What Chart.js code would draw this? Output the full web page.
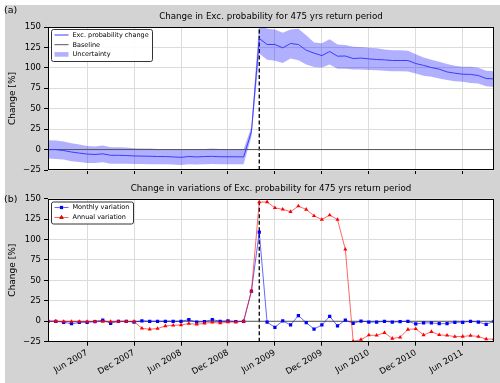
<!DOCTYPE html>
<html>
<head>
<meta charset="utf-8">
<script src="https://cdn.jsdelivr.net/npm/chart.js@4"></script>
<style>
html, body { margin: 0; padding: 0; background: #fff; }
#wrap { position: relative; width: 500px; height: 383px; overflow: hidden; }
canvas { position: absolute; left: 0; }
#ca { top: 0; }
#cb { top: 180px; }
</style>
</head>
<body>
<div id="wrap">
  <canvas id="ca" width="500" height="180"></canvas>
  <canvas id="cb" width="500" height="203"></canvas>
</div>
<script>
// monthly time axis
const months = [
  'Jan 2007','Feb 2007','Mar 2007','Apr 2007','May 2007','Jun 2007','Jul 2007','Aug 2007','Sep 2007','Oct 2007','Nov 2007','Dec 2007',
  'Jan 2008','Feb 2008','Mar 2008','Apr 2008','May 2008','Jun 2008','Jul 2008','Aug 2008','Sep 2008','Oct 2008','Nov 2008','Dec 2008',
  'Jan 2009','Feb 2009','Mar 2009','Apr 2009','May 2009','Jun 2009','Jul 2009','Aug 2009','Sep 2009','Oct 2009','Nov 2009','Dec 2009',
  'Jan 2010','Feb 2010','Mar 2010','Apr 2010','May 2010','Jun 2010','Jul 2010','Aug 2010','Sep 2010','Oct 2010','Nov 2010','Dec 2010',
  'Jan 2011','Feb 2011','Mar 2011','Apr 2011','May 2011','Jun 2011','Jul 2011','Aug 2011','Sep 2011','Oct 2011'
];
const tickLabels = ['Jun 2007','Dec 2007','Jun 2008','Dec 2008','Jun 2009','Dec 2009','Jun 2010','Dec 2010','Jun 2011'];
const eventMonth = 'Apr 2009';
const yTicks = [-25, 0, 25, 50, 75, 100, 125, 150];

// panel (a)
const excChange = [0, 0, -1.2, -3, -4.3, -5.5, -6, -5.2, -7, -7, -7.3, -7.8, -8, -8.2, -8.5, -8.5, -9, -9.5, -8.5, -9, -8.5, -8.3, -8.8, -8.8, -8.8, -9,
  22, 136, 128.6, 128.6, 124.5, 129.8, 128.6, 121.6, 118, 115, 120, 114.3, 114.5, 111.4, 112, 111, 110.2, 109.8, 109, 109, 109, 105.3, 103, 100.4, 98.4, 95, 93.5, 92.2, 92, 90.6, 87, 86.5];
const bandHigh = [11.4, 11, 9.8, 7.8, 6.1, 4.5, 3.7, 4.9, 2.9, 2.9, 2.4, 1.6, 1.2, 1.2, 0.8, 0.8, 0.4, 0, 0.8, 0.4, 0.8, 1.2, 0.8, 0.8, 0.8, 0.4,
  28, 156, 148, 147, 143, 147, 148, 140, 131, 130, 135, 128.6, 128, 125.7, 125.5, 124.5, 124, 122.4, 121.6, 121.6, 120.8, 116.7, 112.7, 110, 107.6, 104.7, 102.7, 101.4, 101.4, 100, 96.5, 96];
const bandLow = [-11, -11.4, -12.2, -14.3, -15.1, -16.3, -16.3, -15.5, -17.2, -17.2, -17.2, -17.6, -17.6, -18, -18, -18, -18.4, -18.8, -18, -18.4, -18, -17.6, -18, -18, -18, -18,
  16, 117.6, 110, 108.6, 106, 111.4, 109.4, 104, 101, 100.3, 104, 99, 99, 98, 98, 97.3, 97, 96.5, 96, 96, 95.5, 93, 90.3, 89, 87, 85, 83.7, 83, 81.6, 80.8, 77.5, 76.7];

// panel (b)
const monthlyVar = [0, 0, -1.2, -3, -1.5, -1.2, -0.5, 1.5, -2.5, 0, 0, -1, 0.5, 0, 0, 0, 0, 0, 2, -1, -0.5, 2, 0, 0.5, -0.5, 0,
  37, 109, -1, -7.4, 0.5, -4.5, 7, -1.7, -9.5, -4.5, 6, -5.7, 1.5, -2.5, 0.3, -1, -1, 0, -1, -0.5, 0, -3.3, -2, -2, -2.9, -2.9, -1.2, -1.2, 0, -1, -3.7, 0];
const annualVar = [0, 0, -0.4, -0.4, -0.4, -0.4, -0.4, -0.4, -0.4, -0.4, -0.4, -0.3, -8.7, -9.7, -8.9, -5.8, -5, -4.5, -2.8, -3.8, -2.5, -1.3, -2.3, -1, -1, 0,
  37, 145.8, 146, 138.8, 137, 134, 141, 136.8, 129, 124.5, 130, 124.5, 88, -24.5, -22.5, -17, -17.3, -14, -21, -19.6, -10, -9.3, -16.8, -12.8, -16.6, -17.3, -18.7, -18.6, -17.5, -18.7, -21.8, -21.8];

const FONT = 'DejaVu Sans';
Chart.defaults.font.family = FONT;
Chart.defaults.color = '#000';

const lastIdx = months.length - 1;
const eventIdx = months.indexOf(eventMonth);
const xy = arr => arr.map((v, i) => ({ x: i, y: v }));
const yMin = yTicks[0], yMax = yTicks[yTicks.length - 1];

// background, frame, title, panel letter and an in-axes legend
const panelDeco = {
  id: 'panelDeco',
  beforeDraw(chart, args, o) {
    const { ctx, chartArea: a, width, height } = chart;
    ctx.save();
    ctx.fillStyle = '#fff';
    ctx.fillRect(0, 0, width, height);
    ctx.fillStyle = '#d3d3d3';
    ctx.fillRect(o.gx, o.gy, width - o.gx, height - o.gy);
    ctx.fillStyle = '#fff';
    ctx.fillRect(a.left, a.top, a.right - a.left, a.bottom - a.top);
    ctx.restore();
  },
  afterDraw(chart, args, o) {
    const { ctx, chartArea: a } = chart;
    ctx.save();
    ctx.strokeStyle = '#000';
    ctx.lineWidth = 1;
    ctx.strokeRect(Math.round(a.left) + 0.5, Math.round(a.top) + 0.5, Math.round(a.right - a.left) - 1, Math.round(a.bottom - a.top) - 1);

    ctx.fillStyle = '#000';
    ctx.textBaseline = 'middle';
    ctx.textAlign = 'center';
    ctx.font = o.titleSize + 'px "' + FONT + '"';
    ctx.fillText(o.title, (a.left + a.right) / 2, o.titleY);
    ctx.textAlign = 'left';
    ctx.font = o.letterSize + 'px "' + FONT + '"';
    ctx.fillText(o.letter, 4, o.letterY);

    // legend
    const L = o.legend;
    ctx.beginPath();
    ctx.roundRect(L.x + 0.5, L.y + 0.5, L.w, L.h, 2);
    ctx.fillStyle = 'rgba(255,255,255,0.9)';
    ctx.fill();
    ctx.strokeStyle = '#333';
    ctx.lineWidth = 1;
    ctx.stroke();
    ctx.font = L.size + 'px "' + FONT + '"';
    L.items.forEach((di, k) => {
      const ds = chart.data.datasets[di];
      const y = L.y + L.first + k * L.step;
      const x0 = L.x + 3.5, x1 = L.x + 17.5;
      if (ds.legendKind === 'patch') {
        ctx.fillStyle = ds.backgroundColor;
        ctx.fillRect(x0, y - 2.3, x1 - x0, 4.6);
      } else {
        ctx.strokeStyle = ds.borderColor;
        ctx.lineWidth = ds.borderWidth;
        ctx.beginPath();
        ctx.moveTo(x0, y); ctx.lineTo(x1, y);
        ctx.stroke();
        if (ds.pointStyle && ds.pointRadius > 0) {
          Chart.helpers.drawPoint(ctx, { pointStyle: ds.pointStyle, radius: ds.pointRadius, borderWidth: 0, rotation: 0 }, (x0 + x1) / 2, y);
          ctx.fillStyle = ds.pointBackgroundColor;
          ctx.fill();
        }
      }
      ctx.fillStyle = '#000';
      ctx.fillText(ds.label, L.x + 21.5, y + 0.3);
    });
    ctx.restore();
  }
};

function yScale() {
  return {
    type: 'linear', min: yMin, max: yMax,
    afterBuildTicks: s => { s.ticks = yTicks.map(v => ({ value: v })); },
    ticks: { padding: 3, color: '#000', font: { size: 8.5 },
      callback: v => v < 0 ? '\u2212' + Math.abs(v) : String(v) },
    grid: { color: '#dcdcdc', lineWidth: 1, tickLength: 4, tickColor: '#000' },
    border: { display: false },
    title: { display: true, text: 'Change [%]', color: '#000', font: { size: 9 }, padding: { top: 7, bottom: 0 } },
    afterFit: s => { s.width = 48; }
  };
}

function xScale(showLabels, h) {
  return {
    type: 'linear', min: 0, max: lastIdx,
    afterBuildTicks: s => { s.ticks = tickLabels.map(t => ({ value: months.indexOf(t) })); },
    ticks: { autoSkip: false, minRotation: 30, maxRotation: 30, padding: 2, color: '#000', font: { size: 8.5 },
      callback: v => showLabels ? months[v] : '' },
    grid: { color: '#dcdcdc', lineWidth: 1, tickLength: 4, tickColor: '#000' },
    border: { display: false },
    afterFit: s => { s.height = h; }
  };
}

const zeroLine = () => ({ label: 'Baseline', data: [{ x: 0, y: 0 }, { x: lastIdx, y: 0 }],
  borderColor: '#555', borderWidth: 1, pointRadius: 0, legendKind: 'line' });
const eventLine = () => ({ label: 'event', data: [{ x: eventIdx, y: yMin }, { x: eventIdx, y: yMax }],
  borderColor: '#000', borderWidth: 1.3, borderDash: [4, 2.5], pointRadius: 0 });

new Chart(document.getElementById('ca'), {
  type: 'line',
  data: {
    datasets: [
      { label: 'Exc. probability change', data: xy(excChange), borderColor: '#3c3cff', borderWidth: 1, pointRadius: 0, legendKind: 'line' },
      zeroLine(),
      eventLine(),
      { label: 'Uncertainty', data: xy(bandHigh), borderWidth: 0, pointRadius: 0, backgroundColor: 'rgba(0,0,255,0.31)', fill: '+1', legendKind: 'patch' },
      { label: 'low', data: xy(bandLow), borderWidth: 0, pointRadius: 0, fill: false }
    ]
  },
  options: {
    responsive: false, animation: false, events: [],
    layout: { padding: { top: 27, right: 6, left: 0, bottom: 0 } },
    scales: { x: xScale(false, 10), y: yScale() },
    plugins: {
      legend: { display: false }, tooltip: { enabled: false },
      panelDeco: {
        gx: 5, gy: 5, title: 'Change in Exc. probability for 475 yrs return period', titleSize: 8.7, titleY: 16.5,
        letter: '(a)', letterSize: 9.5, letterY: 10.5,
        legend: { x: 51, y: 29, w: 101, h: 32, size: 6.5, first: 6, step: 9.7, items: [0, 1, 3] }
      }
    }
  },
  plugins: [panelDeco]
});

new Chart(document.getElementById('cb'), {
  type: 'line',
  data: {
    datasets: [
      { label: 'Annual variation', data: xy(annualVar), borderColor: 'rgba(255,0,0,0.6)', borderWidth: 1,
        pointStyle: 'triangle', pointRadius: 2.4, pointBackgroundColor: '#ff0000', pointBorderWidth: 0, legendKind: 'line' },
      { label: 'Monthly variation', data: xy(monthlyVar), borderColor: 'rgba(0,0,255,0.6)', borderWidth: 1,
        pointStyle: 'rect', pointRadius: 2.3, pointBackgroundColor: '#0000ff', pointBorderWidth: 0, legendKind: 'line' },
      zeroLine(),
      eventLine()
    ]
  },
  options: {
    responsive: false, animation: false, events: [],
    layout: { padding: { top: 18.7, right: 6, left: 0, bottom: 0 } },
    scales: { x: xScale(true, 41.3), y: yScale() },
    plugins: {
      legend: { display: false }, tooltip: { enabled: false },
      panelDeco: {
        gx: 5, gy: 0, title: 'Change in variations of Exc. probability for 475 yrs return period', titleSize: 8.7, titleY: 8.5,
        letter: '(b)', letterSize: 9.5, letterY: 19.5,
        legend: { x: 51, y: 21.5, w: 82, h: 22, size: 6.5, first: 6, step: 10, items: [1, 0] }
      }
    }
  },
  plugins: [panelDeco]
});
</script>
</body>
</html>
